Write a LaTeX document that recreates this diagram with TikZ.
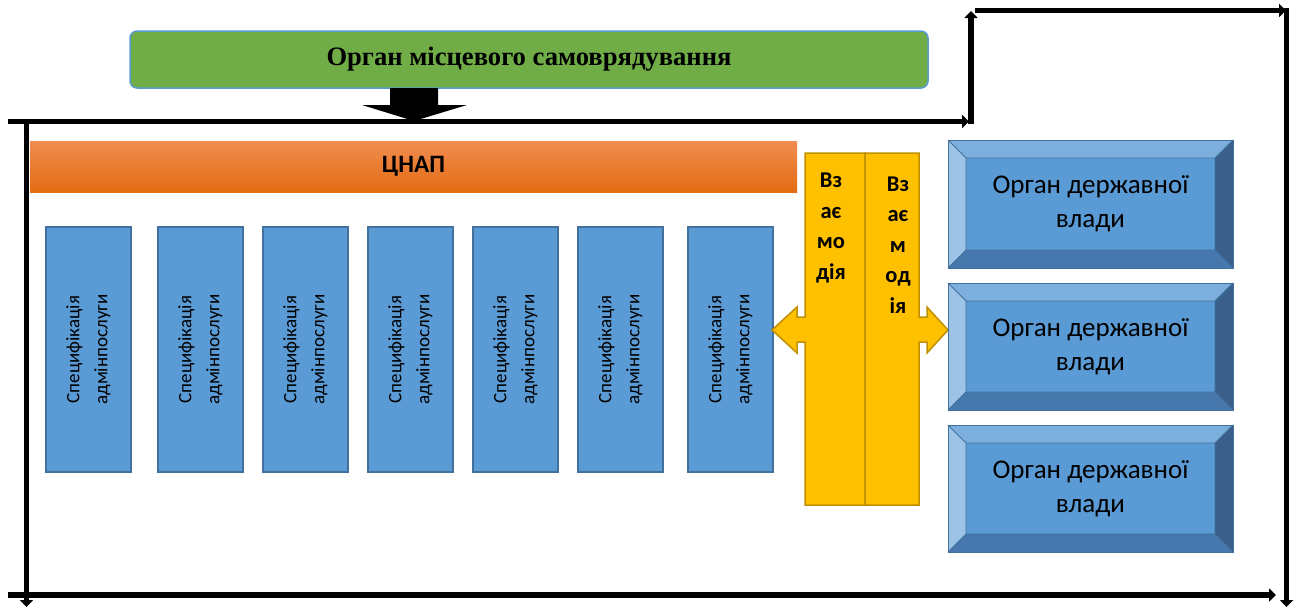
\documentclass[tikz,border=0pt]{standalone}
\usepackage{fontspec}
\setmainfont{Liberation Serif}
\newfontfamily\carl{Carlito}
\usetikzlibrary{arrows.meta}
\definecolor{grn}{RGB}{112,173,71}
\definecolor{grnb}{RGB}{91,155,213}
\definecolor{orT}{RGB}{240,140,80}
\definecolor{orB}{RGB}{228,108,18}
\definecolor{bl}{RGB}{91,155,213}
\definecolor{blb}{RGB}{65,113,156}
\definecolor{yel}{RGB}{255,192,0}
\definecolor{yelb}{RGB}{191,144,0}
\definecolor{bvT}{RGB}{124,175,222}
\definecolor{bvL}{RGB}{157,195,230}
\definecolor{bvR}{RGB}{58,95,138}
\definecolor{bvB}{RGB}{70,120,174}
\tikzset{
  frame/.style={line width=5.6pt,-{Triangle[length=7pt,width=13pt]}},
  col/.style={draw=blb,line width=1.2pt,fill=bl,rotate=90,minimum width=245pt,minimum height=85pt,align=center,inner sep=0pt,
    font=\carl\fontsize{19}{28}\selectfont},
  yshape/.style={draw=yelb,line width=1.5pt,fill=yel},
  ytext/.style={align=center,font=\carl\bfseries\fontsize{22.5}{30.5}\selectfont,inner sep=0pt},
  gtext/.style={align=center,font=\carl\fontsize{27}{34}\selectfont,inner sep=0pt},
}
\newcommand\bevelbox[5]{% x1 y1 x2 y2 name
  \def\bb{18}
  \fill[bvT] (#1,#2) -- (#3,#2) -- (#3-\bb,#2+\bb) -- (#1+\bb,#2+\bb) -- cycle;
  \fill[bvL] (#1,#2) -- (#1+\bb,#2+\bb) -- (#1+\bb,#4-\bb) -- (#1,#4) -- cycle;
  \fill[bvR] (#3,#2) -- (#3,#4) -- (#3-\bb,#4-\bb) -- (#3-\bb,#2+\bb) -- cycle;
  \fill[bvB] (#1,#4) -- (#3,#4) -- (#3-\bb,#4-\bb) -- (#1+\bb,#4-\bb) -- cycle;
  \fill[bl] (#1+\bb,#2+\bb) rectangle (#3-\bb,#4-\bb);
  \draw[blb,line width=0.8pt] (#1,#2) -- (#1+\bb,#2+\bb) (#3,#2) -- (#3-\bb,#2+\bb)
     (#1,#4) -- (#1+\bb,#4-\bb) (#3,#4) -- (#3-\bb,#4-\bb)
     (#1+\bb,#2+\bb) rectangle (#3-\bb,#4-\bb);
  \draw[blb,line width=1pt] (#1,#2) rectangle (#3,#4);
  \node[gtext] (#5) at ({(#1+#3)/2},{(#2+#4)/2}) {Орган державної\\влади};
}
\begin{document}
\begin{tikzpicture}[x=1pt,y=-1pt]
\useasboundingbox (0,0) rectangle (1298,608);
% green box
\node[draw=grnb,line width=1.5pt,fill=grn,rounded corners=7pt,minimum width=798pt,minimum height=57pt,
  font=\bfseries\fontsize{26.6}{30}\selectfont] (oms) at (529,59.5) {Орган місцевого самоврядування};
% block arrow down
\fill[black] (390,88) -- (438,88) -- (438,105) -- (467,105) -- (414,121) -- (362,105) -- (390,105) -- cycle;
% frame coordinates
\coordinate (a0) at (8,121.5);
\coordinate (a1) at (969,121.5);
\coordinate (b0) at (971,124.3);
\coordinate (b1) at (971,11);
\coordinate (c0) at (975,10.5);
\coordinate (c1) at (1286,10.5);
\coordinate (d0) at (1286.5,7.7);
\coordinate (d1) at (1286.5,607);
\coordinate (e0) at (8,595);
\coordinate (e1) at (1276,595);
\coordinate (f0) at (26.5,118.7);
\coordinate (f1) at (26.5,607);
\draw[frame] (a0) -- (a1);
\draw[frame] (b0) -- (b1);
\draw[frame] (c0) -- (c1);
\draw[frame] (d0) -- (d1);
\draw[frame] (e0) -- (e1);
\draw[frame] (f0) -- (f1);
% orange bar
\node[top color=orT,bottom color=orB,minimum width=767pt,minimum height=51pt,inner sep=0pt,
  font=\carl\bfseries\fontsize{25}{29}\selectfont] (cnap) at (413.5,166.5) {ЦНАП};
% columns
\foreach \x [count=\i] in {88.5,200.5,305.5,410.5,515.5,620.5,730.5}
  \node[col] (s\i) at (\x,349.5) {Специфікація\\адмінпослуги};
% yellow shapes
\draw[yshape] (805,153) -- (865,153) -- (865,505) -- (805,505) -- (805,342) -- (797,342) -- (797,353)
  -- (772,330) -- (797,307) -- (797,317) -- (805,317) -- cycle;
\draw[yshape] (865,153) -- (919,153) -- (919,317) -- (927,317) -- (927,307) -- (948,330) -- (927,353)
  -- (927,342) -- (919,342) -- (919,505) -- (865,505) -- cycle;
\node[ytext] (y1) at (831,228) {Вз\\ає\\мо\\дія};
\node[ytext] (y2) at (898,245) {Вз\\ає\\м\\од\\ія};
% bevel boxes
\bevelbox{948}{140}{1233}{268}{g1}
\bevelbox{948}{283}{1233}{410}{g2}
\bevelbox{948}{425}{1233}{552}{g3}
\end{tikzpicture}
\end{document}
